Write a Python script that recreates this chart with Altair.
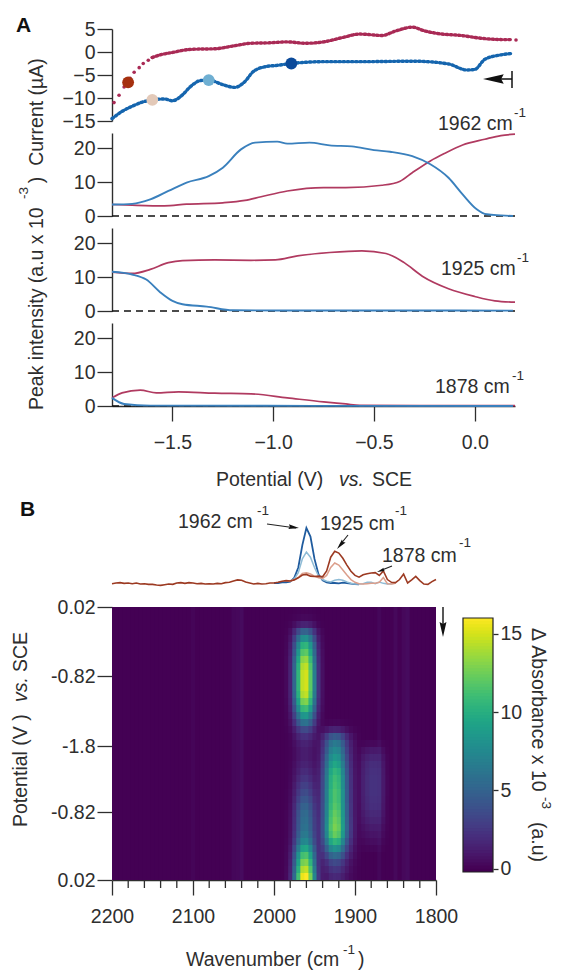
import math
import numpy as np
import pandas as pd
import altair as alt

FONT = "Liberation Sans"
INK = "#2e2e2e"
RED_I, BLUE_I = "#a92a55", "#1565ae"
RED, BLUE = "#b03a60", "#3a80bd"
FS = 19.5
SUP = 13.5

# ---------- Panel A, current ----------
red_i_v = [-1.60,-1.56,-1.50,-1.45,-1.40,-1.29,-1.20,-1.11,-1.02,-0.93,-0.84,-0.75,-0.66,-0.57,-0.46,-0.39,-0.31,-0.25,-0.18,-0.07,0.03,0.14,0.18]
red_i_y = [-1.2,-0.6,-0.1,0.35,0.6,0.7,1.3,1.9,2.0,2.2,1.9,2.2,3.1,3.9,3.6,4.6,5.4,4.6,4.0,3.6,3.0,2.7,2.7]
red_dots_v = [-1.79,-1.765,-1.74,-1.71,-1.69,-1.665,-1.645,-1.62,-1.60,0.205]
red_dots_y = [-11.0,-9.4,-7.6,-5.7,-4.4,-3.4,-2.5,-1.8,-1.2,2.6]
blue_i_v = [-1.80,-1.75,-1.70,-1.65,-1.60,-1.54,-1.50,-1.45,-1.41,-1.36,-1.32,-1.25,-1.19,-1.14,-1.10,-1.04,-0.98,-0.91,-0.75,-0.57,-0.30,-0.13,-0.04,0.00,0.05,0.12,0.19]
blue_i_y = [-14.5,-12.9,-11.8,-10.9,-10.4,-10.2,-10.6,-9.3,-7.5,-6.2,-6.1,-7.1,-7.7,-6.4,-4.3,-3.2,-2.9,-2.5,-2.1,-2.1,-2.0,-2.6,-3.9,-3.8,-1.6,-0.7,-0.3]
marker_v = [-1.72,-1.60,-1.32,-0.91]
marker_y = [-6.6,-10.4,-6.1,-2.5]
marker_c = ["#a5300f","#e3c9b8","#6fafd2","#0b4a9a"]

# ---------- Panel A, peak intensities ----------
b1962_v = [-1.80,-1.70,-1.61,-1.52,-1.43,-1.32,-1.25,-1.16,-1.09,-0.98,-0.93,-0.82,-0.72,-0.61,-0.50,-0.42,-0.31,-0.22,-0.13,-0.06,0.01,0.06,0.13,0.19]
b1962_y = [3.4,3.6,4.9,7.4,9.9,11.8,14.3,19.7,21.7,22.0,21.4,21.7,20.9,20.6,19.5,19.0,17.7,15.3,11.3,6.4,2.0,0.5,0.2,0.0]
r1962_v = [-1.80,-1.70,-1.54,-1.43,-1.25,-1.14,-1.06,-0.93,-0.75,-0.64,-0.46,-0.37,-0.31,-0.22,-0.15,-0.06,0.05,0.13,0.20]
r1962_y = [3.4,3.2,3.0,3.5,3.9,4.6,5.7,7.4,8.4,8.4,9.1,10.3,12.8,16.3,18.5,21.0,22.7,23.8,24.2]
r1925_v = [-1.80,-1.70,-1.61,-1.52,-1.45,-1.29,-1.11,-0.99,-0.88,-0.72,-0.56,-0.44,-0.35,-0.26,-0.13,0.00,0.10,0.20]
r1925_y = [11.5,11.1,12.3,14.3,14.9,15.1,15.0,15.1,16.3,17.3,17.8,17.0,14.3,10.3,6.6,4.3,3.0,2.6]
b1925_v = [-1.80,-1.70,-1.63,-1.56,-1.50,-1.45,-1.33,-1.20,-0.80,-0.40,0.19]
b1925_y = [11.6,10.8,9.3,5.5,3.0,2.0,1.3,0.2,0.15,0.15,0.1]
r1878_v = [-1.80,-1.75,-1.66,-1.58,-1.47,-1.29,-1.11,-0.93,-0.75,-0.64,-0.57,0.20]
r1878_y = [2.4,3.9,4.7,3.9,4.2,3.8,3.6,2.4,1.2,0.6,0.2,0.1]
b1878_v = [-1.80,-1.74,-1.61,-0.80,0.19]
b1878_y = [2.4,0.6,0.1,0.05,0.0]
zero_v = [-1.80,0.20]
zero_y = [0,0]

# ---------- Panel B, spectra ----------
spec_w = list(range(2200,1795,-5))
spec_red = [-0.2,0,0.1,-0.1,0,-0.2,0,-0.3,-0.2,-0.4,-0.4,-0.6,-0.7,-0.5,-0.3,-0.4,0,0.1,-0.1,0.1,0,-0.2,-0.1,-0.3,-0.2,-0.3,-0.1,-0.2,0.1,0.2,0.6,0.9,0.8,0.3,0,-0.3,-0.1,-0.3,-0.2,0,0,
            0.2,0.5,0.7,0.6,0.9,1.5,2.3,2.5,2.0,1.9,2.0,1.8,3.5,7.5,9.2,8.7,7.2,5.2,3.4,2.2,1.7,2.4,2.7,2.9,3.0,2.2,3.5,1.0,0.2,0.1,1.0,2.6,0,0.9,1.9,0.7,-0.3,-0.4,0.4,1.0]
navy_w = list(range(2000,1890,-5))
spec_navy = [0,0,0.2,0.2,0.4,1.5,4.5,11,16,13.5,7,2.5,0.8,0.2,0,0,-0.1,0.1,0,-0.2,-0.3,-0.4]
sky_w = list(range(1985,1845,-5))
spec_sky = [0.5,0.6,1.2,3,7,9,7.5,4.5,2,1,0.5,0.3,0.8,1,0.8,0.3,-0.1,-0.3,-0.3,-0.2,0.2,0.2,-0.2,0.3,-0.1,-0.3,-0.2,0]
salmon_w = list(range(1985,1845,-5))
spec_salmon = [0.6,0.6,1,1.6,2.8,3,2.6,2,1.5,1.3,2.2,4.5,5.8,5.2,3.8,2.3,1,0.2,-0.2,-0.3,-0.2,-0.1,-0.1,0.2,1.6,-0.2,-0.3,-0.1]

# ---------- Panel B, map: band shapes across wavenumber and strength down the scan ----------
w_1962 = [1985,1980,1975,1970,1965,1960,1955,1950,1945,1940]
p_1962 = [0.02,0.1,0.35,0.7,0.97,1,0.8,0.45,0.15,0.04]
w_1925 = [1950,1945,1940,1935,1930,1925,1920,1915,1910,1905,1900,1895]
p_1925 = [0.02,0.1,0.3,0.6,0.9,1,0.95,0.7,0.4,0.2,0.08,0.02]
w_1878 = [1895,1890,1885,1880,1875,1870,1865,1860]
p_1878 = [0.15,0.6,0.85,1,1,0.85,0.45,0.1]
w_lines = [2100,2050,2045,2040,1870,1850,1840,1835]
p_lines = [0.15,0.25,0.3,0.4,0.25,0.3,0.3,0.4]
amp_1962 = [0.1,0.3,1.5,5,8,10.5,12,13.5,14.5,15,15,15,14.5,13,11,8.5,6,3.5,2.2,1.5,1.2,1.2,1.5,1.9,2.4,3,3.6,4.3,5,5.5,5.8,6,6.5,7.5,9.5,11.5,13,14.5,16]
amp_1925 = [0,0,0,0,0,0,0,0,0,0,0,0,0,0,0,0,0.2,1.5,4.5,6.5,7.5,8.5,9.5,10.5,11,11.2,11.5,11.5,11.8,12.2,12.5,12.8,12.3,10.5,8,5.5,3.5,2.5,1.8]
amp_1878 = [0,0,0,0,0,0,0,0,0,0,0,0,0,0,0,0,0,0,0,0.3,1,1.6,2,2.2,2.3,2.3,2.3,2.2,2.1,1.8,1.5,1.1,0.8,0.5,0.2,0,0,0,0]
minor_w = [w for w in range(2200,1790,-20) if w % 100]
scan_ticks = [0,9.86,19.86,29.3,39]
scan_labels = ["0.02","-0.82","-1.8","-0.82","0.02"]
bar_ticks = [0,5,10,15]


def profile(ws, ps):
    d = dict(zip(ws, ps))
    return np.array([d.get(w, 0.0) for w in spec_w])

cols = (np.outer(amp_1962, profile(w_1962, p_1962)) + np.outer(amp_1925, profile(w_1925, p_1925))
        + np.outer(amp_1878, profile(w_1878, p_1878)))
cols = cols + profile(w_lines, p_lines)
rows_ = []
for r in range(len(amp_1962)):
    for c, w in enumerate(spec_w):
        rows_.append(dict(w1=w+2.5, w2=w-4, s1=r, s2=r+1.15, v=float(cols[r, c])))
heat = pd.DataFrame(rows_)

VD = alt.Scale(scheme="viridis", domain=[0, 16])
VX = alt.Scale(domain=[-1.8, 0.2], nice=False, zero=False)
WX = alt.Scale(domain=[2200, 1800], nice=False, zero=False)
one = pd.DataFrame({"a": [0]})
LEFT = 112


def yaxis(values):
    return alt.Axis(values=values, title=None, grid=False, tickSize=15, tickWidth=1.3, tickColor=INK, domainColor=INK,
                    domainWidth=1.4, labelFont=FONT, labelFontSize=FS, labelColor=INK, labelPadding=2, format="d", labelFlush=False, labelOverlap=False)


def xaxis(values, fmt):
    return alt.Axis(values=values, format=fmt, title=None, grid=False, tickSize=15, tickWidth=1.3, tickColor=INK, domainColor=INK,
                    domainWidth=1.4, labelFont=FONT, labelFontSize=FS, labelColor=INK, labelPadding=12, labelFlush=False, labelOverlap=False)


def line(xs, ys, color, width, xscale, yscale, xax, yax, dash=None, smooth=False):
    df = pd.DataFrame({"x": xs, "y": ys})
    kw = dict(color=color, strokeWidth=width)
    if dash:
        kw["strokeDash"] = dash
    if smooth:
        kw["interpolate"] = "monotone"
    return alt.Chart(df).mark_line(**kw).encode(
        x=alt.X("x:Q", scale=xscale, axis=xax), y=alt.Y("y:Q", scale=yscale, axis=yax))


def txt(text, px, py, top, size=FS, angle=0, align="left", style="normal", weight="normal", color=INK):
    return alt.Chart(one).mark_text(text=text, font=FONT, fontSize=size, angle=angle, align=align, baseline="middle",
                                    fontStyle=style, fontWeight=weight, color=color).encode(
        x=alt.value(px - LEFT), y=alt.value(py - top))


def seg(x0, y0, x1, y1, top, width=1.2, color="#222222"):
    return alt.Chart(one).mark_rule(color=color, strokeWidth=width).encode(
        x=alt.value(x0 - LEFT), x2=alt.value(x1 - LEFT), y=alt.value(y0 - top), y2=alt.value(y1 - top))


TIP = "M-1,0L1,-0.46L0.75,0L1,0.46Z"


def head(tx, ty, dx, dy, top, size=110, color="#111111"):
    ang = (math.degrees(math.atan2(dy, dx)) - 180) % 360
    n = math.hypot(dx, dy)
    r = math.sqrt(size) / 2
    return alt.Chart(one).mark_point(shape=TIP, filled=True, size=size, angle=ang, color=color, opacity=1, strokeWidth=0).encode(
        x=alt.value(tx - dx / n * r - LEFT), y=alt.value(ty - dy / n * r - top))


# ---- current panel
TOP1 = 29
Y1 = alt.Scale(domain=[-15, 5], nice=False, zero=False)
ax1 = yaxis([5, 0, -5, -10, -15])
red_dots = alt.Chart(pd.DataFrame({"x": red_dots_v, "y": red_dots_y})).mark_circle(size=13, color=RED_I, opacity=1).encode(
    x=alt.X("x:Q", scale=VX, axis=None), y=alt.Y("y:Q", scale=Y1, axis=ax1))
mk = alt.Chart(pd.DataFrame({"x": marker_v, "y": marker_y, "c": marker_c})).mark_circle(size=140, opacity=1).encode(
    x=alt.X("x:Q", scale=VX, axis=None), y=alt.Y("y:Q", scale=Y1, axis=ax1), color=alt.Color("c:N", scale=None, legend=None))


def dotted(xs, ys, color):
    return alt.Chart(pd.DataFrame({"x": xs, "y": ys})).mark_line(color=color, strokeWidth=3.4, strokeDash=[1.6, 2.6], strokeCap="round", interpolate="monotone").encode(
        x=alt.X("x:Q", scale=VX, axis=None), y=alt.Y("y:Q", scale=Y1, axis=ax1))


p1 = alt.layer(
    red_dots, dotted(red_i_v, red_i_y, RED_I), dotted(blue_i_v, blue_i_y, BLUE_I), mk,
    seg(490, 79, 512, 79, TOP1, 1.5, "#111111"),
    seg(512, 71, 512, 88, TOP1, 1.5, "#111111"),
    head(483, 79, -1, 0, TOP1, size=430),
    txt("A", 16, 26, TOP1, size=21, weight="bold", color="#111111"),
    txt("Current (µA)", 37, 112, TOP1, angle=270, align="center"),
).properties(width=403, height=92)


# ---- intensity panels
def panel(top, rv, ry, bv, by, label, lx, ly, sx, sy, lowest=False, extra=()):
    ys = alt.Scale(domain=[0, 24.55], nice=False, zero=False)
    xax = xaxis([-1.5, -1.0, -0.5, 0.0], ".1f") if lowest else None
    ax = yaxis([0, 10, 20])
    return alt.layer(
        line(zero_v, zero_y, "#111111", 1.6, VX, ys, xax, ax, dash=[7, 5]),
        line(rv, ry, RED, 1.7, VX, ys, xax, ax, smooth=True), line(bv, by, BLUE, 1.9, VX, ys, xax, ax, smooth=True),
        txt(label, lx, ly, top), txt("-1", sx, sy, top, size=SUP), *extra,
    ).properties(width=403, height=83)


p2 = panel(133, r1962_v, r1962_y, b1962_v, b1962_y, "1962 cm", 438, 124, 514, 113)
p3 = panel(228, r1925_v, r1925_y, b1925_v, b1925_y, "1925 cm", 441, 269, 517, 258)
p4 = panel(323, r1878_v, r1878_y, b1878_v, b1878_y, "1878 cm", 435, 387, 512, 376, lowest=True, extra=(
    txt("Potential (V)", 216, 480, 323), txt("vs.", 339, 480, 323, style="italic"), txt("SCE", 372, 480, 323),
    txt("Peak intensity (a.u x 10", 37, 410, 323, angle=270), txt("-3", 24, 193, 323, size=SUP, angle=270, align="center"),
    txt(")", 37, 180, 323, angle=270, align="center"),
))

# ---- spectra panel
TOP5 = 418
Y5 = alt.Scale(domain=[-3.49, 47.97], nice=False, zero=False)


def sp(ws, vs, color, width=1.5):
    return line(ws, vs, color, width, WX, Y5, None, None)


p5 = alt.layer(
    sp(navy_w, spec_navy, "#1f5b9e", 1.8), sp(sky_w, spec_sky, "#8fbcd6"), sp(salmon_w, spec_salmon, "#dc9f8c"), sp(spec_w, spec_red, "#9c3a22", 1.6),
    txt("B", 20, 510, TOP5, size=21, weight="bold", color="#111111"),
    txt("1962 cm", 178, 522, TOP5), txt("-1", 257, 511, TOP5, size=SUP),
    txt("1925 cm", 320, 524, TOP5), txt("-1", 395, 511, TOP5, size=SUP),
    txt("1878 cm", 382, 556, TOP5), txt("-1", 459, 543, TOP5, size=SUP),
    seg(267, 524, 296, 528, TOP5), head(299, 528, 31, 4, TOP5),
    seg(348, 535, 340, 545, TOP5), head(337, 549, -11, 13, TOP5),
    seg(392, 566, 382, 570, TOP5), head(377, 572, -14, 5, TOP5, size=60),
).properties(width=324, height=177)

# ---- map
label_expr = " : ".join(f"datum.value == {t} ? '{l}'" for t, l in zip(scan_ticks, scan_labels)) + " : ''"
x6 = xaxis([2200, 2100, 2000, 1900, 1800], "d")
map_rects = alt.Chart(heat).mark_rect(clip=True).encode(
    x=alt.X("w1:Q", scale=WX, axis=x6),
    x2="w2:Q",
    y=alt.Y("s1:Q", scale=alt.Scale(domain=[0, 39], nice=False, zero=False, reverse=True),
            axis=alt.Axis(values=scan_ticks, labelExpr=label_expr, title=None, grid=False, tickSize=15, tickWidth=1.3, tickColor=INK,
                          domain=False, labelFont=FONT, labelFontSize=FS, labelColor=INK, labelPadding=2, labelFlush=False, labelOverlap=False)),
    y2="s2:Q",
    color=alt.Color("v:Q", scale=VD, legend=None),
)
minor = alt.Chart(pd.DataFrame({"w": minor_w})).mark_rule(color=INK, strokeWidth=1.3).encode(
    x=alt.X("w:Q", scale=WX, axis=x6), y=alt.value(273), y2=alt.value(281))
TOP6 = 607
p6 = alt.layer(
    map_rects, minor,
    seg(443, 607, 443, 624, TOP6, 1.4, "#111111"), head(443, 637, 0, 1, TOP6, size=225),
    txt("Wavenumber (cm", 186, 960, TOP6), txt("-1", 343, 950, TOP6, size=SUP), txt(")", 358, 960, TOP6),
    txt("Potential (V )", 21, 827, TOP6, angle=270), txt("vs.", 21, 702, TOP6, angle=270, style="italic"),
    txt("SCE", 21, 672, TOP6, angle=270),
).properties(width=324, height=273)

# ---- colour bar: the panel starts with the map at 607, the bar itself at 618
bar_lo = [round(-0.2 + i * 0.2, 1) for i in range(81)]
bar = pd.DataFrame({"lo": bar_lo, "hi": [min(round(v + 0.3, 1), 16) for v in bar_lo]})
bar["v"] = bar["lo"] + 0.1
BARY = alt.Scale(domain=[-0.2, 16.7], nice=False, zero=False)
bar_rects = alt.Chart(bar).mark_rect(clip=True).encode(
    x=alt.value(0), x2=alt.value(30),
    y=alt.Y("lo:Q", scale=BARY, axis=alt.Axis(orient="right", values=bar_ticks, format="d", title=None, grid=False, tickSize=5, tickWidth=1.3, tickColor=INK,
                                              domain=False, labelFont=FONT, labelFontSize=FS, labelColor=INK, labelPadding=2, labelFlush=False)),
    y2="hi:Q",
    color=alt.Color("v:Q", scale=VD, legend=None),
)
bar_frame = alt.Chart(one).mark_rect(fillOpacity=0, stroke="#222222", strokeWidth=1.2).encode(
    x=alt.value(0), x2=alt.value(30), y=alt.value(11), y2=alt.value(265))


def btxt(text, px, py, size=FS, align="left"):
    return alt.Chart(one).mark_text(text=text, font=FONT, fontSize=size, angle=90, align=align, baseline="middle", color=INK).encode(
        x=alt.value(px - 463), y=alt.value(py - TOP6))


p7 = alt.layer(bar_rects, bar_frame, btxt("Δ Absorbance x 10", 538, 628), btxt("-3", 546, 797, SUP), btxt("(a.u)", 538, 822)).properties(width=30, height=265)

bottom = alt.hconcat(p6, p7, spacing=27, bounds="flush")
# The svg's size and origin are fixed through padding.
chart = alt.vconcat(p1, p2, p3, p4, p5, bottom, spacing=12, bounds="flush").properties(
    padding={"left": 104, "top": 21, "right": 441, "bottom": 944}, background="white",
    autosize=alt.AutoSizeParams(type="none"),
).configure_view(stroke=None).configure_axis(grid=False)

chart.save("out.html", embed_options={"renderer": "svg", "actions": False})
